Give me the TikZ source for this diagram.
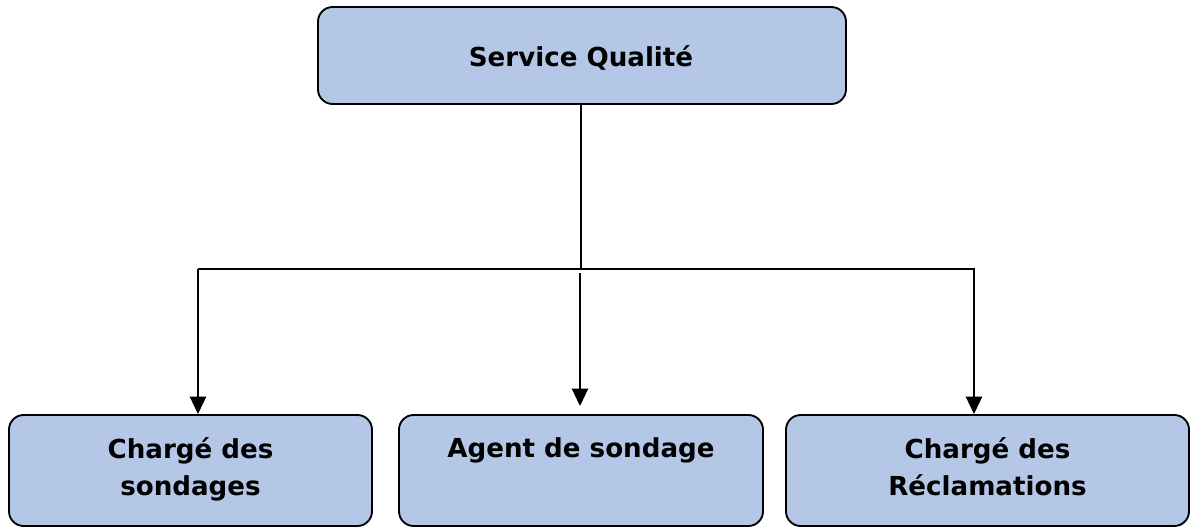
\documentclass[tikz,border=0pt]{standalone}
\usepackage{fontspec}
\setmainfont{DejaVu Sans}
\usetikzlibrary{arrows.meta}
\definecolor{boxblue}{RGB}{180,199,231}
\begin{document}
\begin{tikzpicture}[x=0.75pt,y=-0.75pt,
  unit/.style={draw=black,fill=boxblue,line width=1.4pt,rounded corners=11pt,
    inner sep=0pt},
  caption/.style={font=\bfseries\fontsize{19.6}{27.75}\selectfont,align=center,
    anchor=base,inner sep=0pt},
  link/.style={draw=black,line width=1.1pt},
  feed/.style={draw=black,line width=1.6pt,
    -{Triangle[length=13pt,width=12pt]}}]
\useasboundingbox (0,0) rectangle (1190,527);

% organisation boxes
\node[unit,minimum width=528*0.75pt,minimum height=97*0.75pt] (head) at (582,55.5) {};
\node[unit,minimum width=363*0.75pt,minimum height=111*0.75pt] (left) at (190.5,470.5) {};
\node[unit,minimum width=364*0.75pt,minimum height=111*0.75pt] (mid) at (581,470.5) {};
\node[unit,minimum width=403*0.75pt,minimum height=111*0.75pt] (right) at (987.5,470.5) {};

% box captions (base = last line)
\node[caption] (headtxt) at (581,67) {Service Qualité};
\node[caption] (lefttxt) at (190.5,495) {Chargé des\\sondages};
\node[caption] (midtxt) at (581,458) {Agent de sondage};
\node[caption] (righttxt) at (987.5,495) {Chargé des\\Réclamations};

% distribution bus
\coordinate (bus) at (581,269);
\coordinate (busL) at (198,269);
\coordinate (busR) at (975,269);
\coordinate (midtop) at (580,273);
\draw[link] (bus |- head.south) -- (bus);
\draw[link] (busL) -- (busR);

% arrows down to the three posts
\draw[feed] (busL) -- (busL |- left.north);
\draw[feed] (midtop) -- ([yshift=6pt]midtop |- mid.north);
\draw[feed] ([xshift=-0.75pt]busR) -- ([xshift=-0.75pt]busR |- right.north);
\end{tikzpicture}
\end{document}
